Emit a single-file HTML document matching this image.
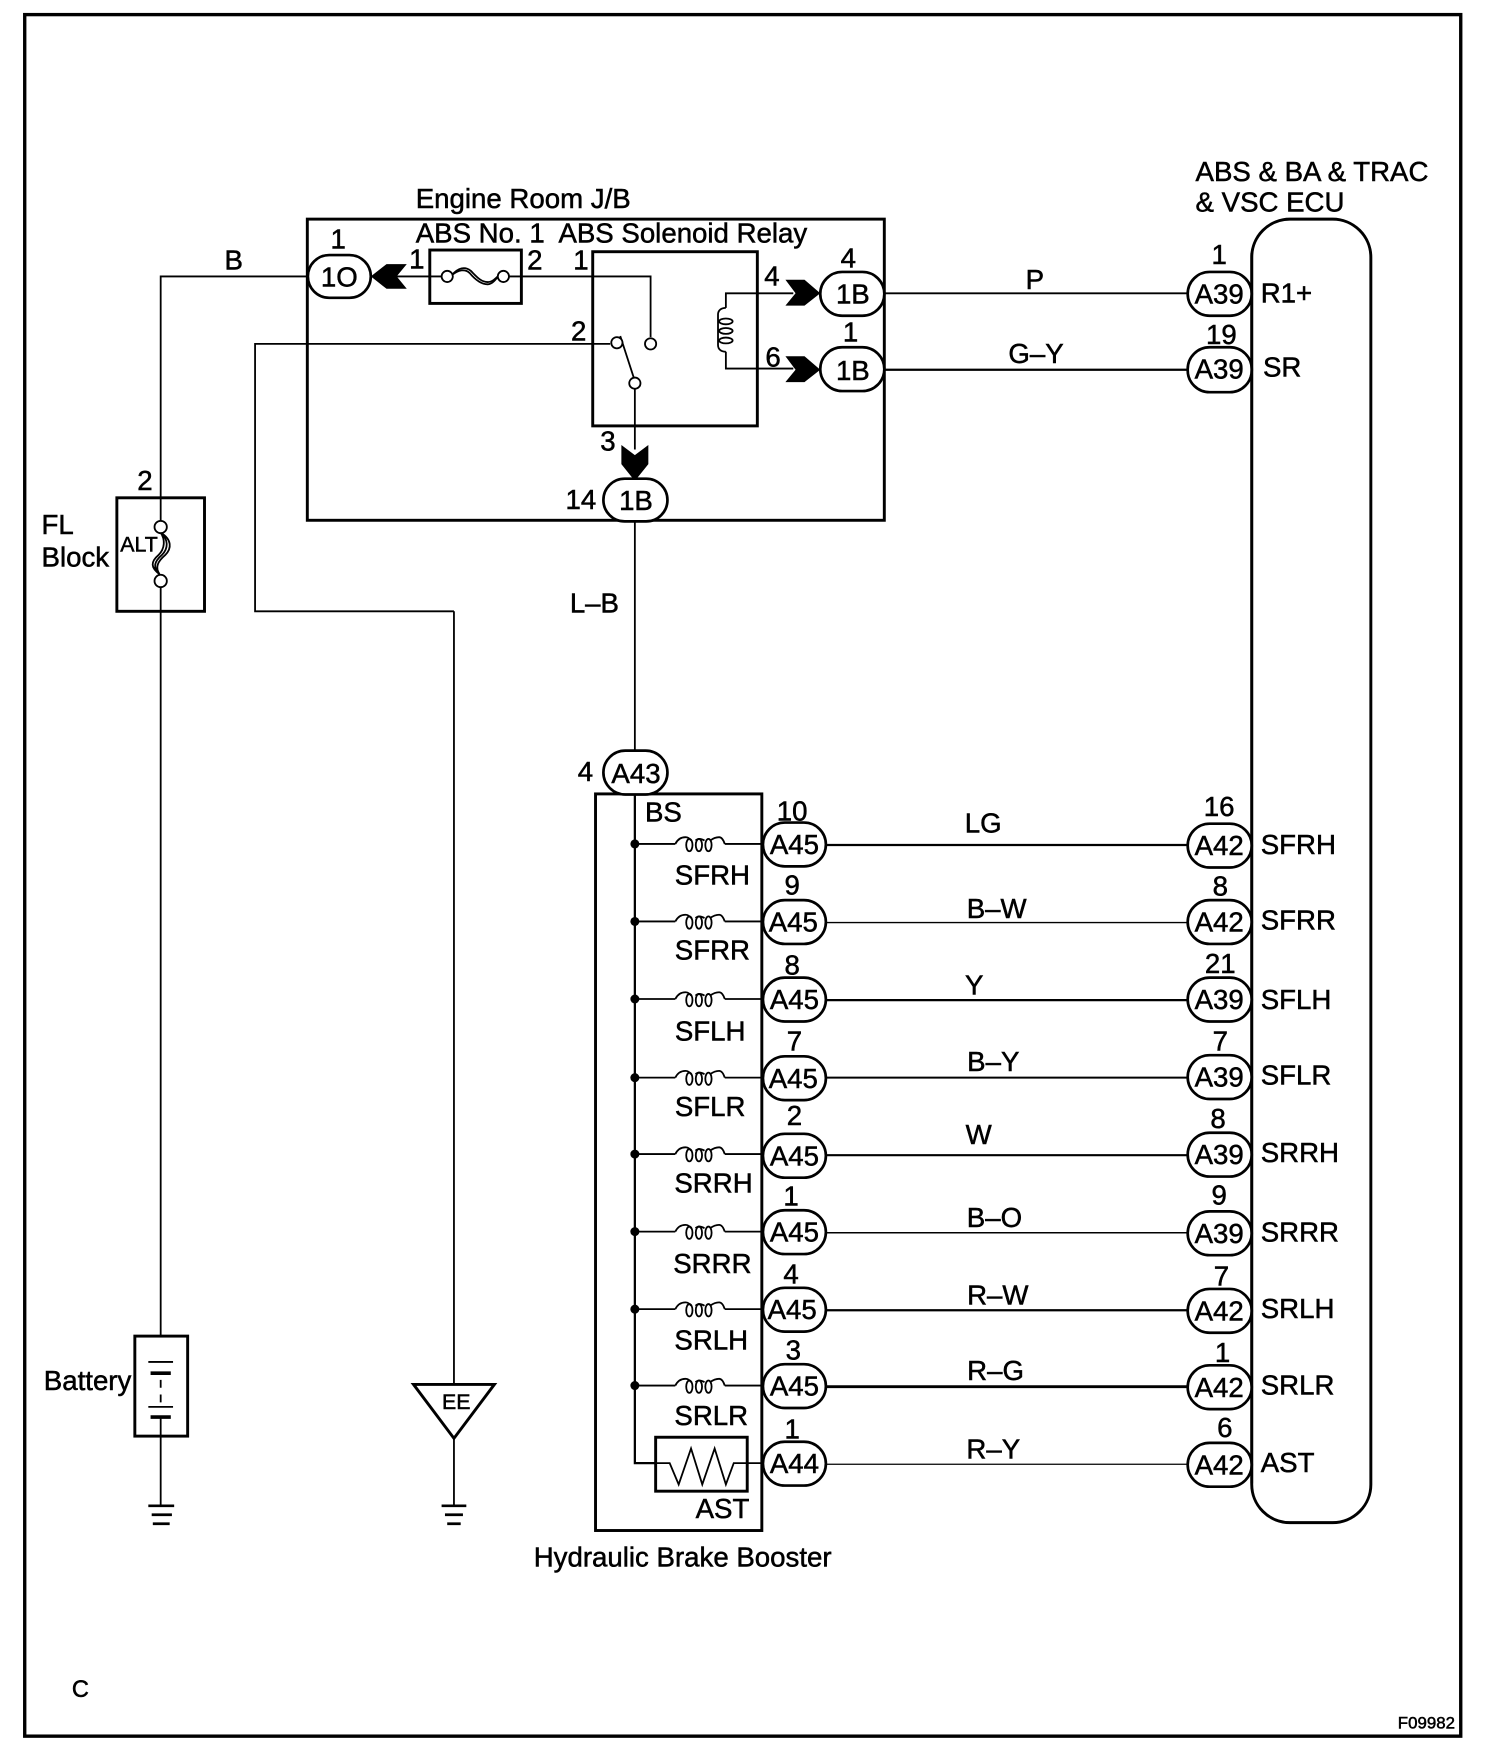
<!DOCTYPE html>
<html><head><meta charset="utf-8"><style>
html,body{margin:0;padding:0;background:#fff}
svg{display:block}
text{font-family:"Liberation Sans",sans-serif;font-size:24.6px;fill:#000;stroke:#000;stroke-width:.45}
.m{text-anchor:middle}
.w{fill:none;stroke:#000;stroke-width:1.6}
.b{fill:none;stroke:#000;stroke-width:2.6}
.p{fill:#fff;stroke:#000;stroke-width:2.4}
.c{fill:#fff;stroke:#000;stroke-width:1.6}
.k{fill:#000;stroke:none}
</style></head><body>
<svg width="1504" height="1762" viewBox="0 0 1338.5 1568" preserveAspectRatio="none" xmlns="http://www.w3.org/2000/svg">
<defs>
<g id="coil"><path class="w" d="M601 0Q604-6 610-6Q613-6 615-3M619-3Q622-6 627-3M632-3Q636-6 640-6Q643-6 645 0"/>
<ellipse class="w" cx="613.5" cy="1" rx="2.8" ry="5.5"/><ellipse class="w" cx="622" cy="1" rx="2.8" ry="5.5"/><ellipse class="w" cx="630.5" cy="1" rx="2.8" ry="5.5"/></g>
</defs>
<rect width="1338.5" height="1568" fill="#fff"/>
<rect class="b" x="22" y="13" width="1278" height="1532" style="stroke-width:3"/>
<!-- wires -->
<path class="w" d="M274 246H143V469M143 517V1189M143 1261V1340"/>
<path class="w" d="M404 544V1232M404 1280V1340M543 306H227V544H404"/>
<path class="w" d="M350 246H393M453 246H579V300"/>
<path class="w" d="M565 346V400M565 464V670"/>
<path class="w" d="M706 261H646V274M646 313V328H706"/>
<path class="w" d="M552 299L564 336"/>
<path class="w" d="M787 261H1057"/>
<path class="w" style="stroke-width:2" d="M787 329H1057"/>
<!-- ECU -->
<rect class="b" x="1114" y="195" width="106" height="1160" rx="34" ry="34"/>
<!-- Engine room box -->
<rect class="b" x="273.500" y="195" width="513.500" height="268"/>
<rect class="b" x="382.500" y="222.500" width="81.500" height="47.500"/>
<rect class="b" x="527.500" y="224" width="146.500" height="155"/>
<!-- fuse ABS No1 -->
<path class="w" d="M402 245C408 238 414 237 419 241C424 246 428 251 434 251C438 251 441 248 444 245"/>
<path class="w" d="M402 245C408 240 414 239 418 243C423 249 428 253 434 253C438 253 441 249 444 245"/>
<circle class="c" cx="398" cy="246" r="5"/><circle class="c" cx="448" cy="246" r="5"/>
<!-- relay contacts -->
<circle class="c" cx="549" cy="305" r="5"/><circle class="c" cx="579" cy="306" r="5"/><circle class="c" cx="565" cy="341" r="5"/>
<!-- relay coil -->
<path class="w" d="M646 274C642 274 639 276 639 280V307C639 311 642 313 646 313"/>
<ellipse class="w" cx="646" cy="286" rx="6" ry="2.6"/><ellipse class="w" cx="646" cy="294.500" rx="6" ry="2.6"/><ellipse class="w" cx="646" cy="303" rx="6" ry="2.6"/>
<!-- chevrons -->
<polygon class="k" points="330,246 344,235 362,235 353,246 362,257 344,257"/>
<polygon class="k" points="730,261 716,249 699,249 708,261 699,272 716,272"/>
<polygon class="k" points="730,329 716,317 699,317 708,329 699,340 716,340"/>
<polygon class="k" points="565,428 553,413 553,396 565,405 577,396 577,413"/>
<!-- pills top -->
<rect class="p" x="274" y="227" width="56" height="38" rx="19"/>
<rect class="p" x="730" y="242" width="57" height="39" rx="19.500"/>
<rect class="p" x="730" y="309" width="57" height="39" rx="19.500"/>
<rect class="p" x="537" y="426" width="57" height="38" rx="19"/>
<rect class="p" x="1057" y="242" width="57" height="39" rx="19.500"/>
<rect class="p" x="1057" y="309" width="57" height="40" rx="19.500"/>
<!-- FL block -->
<rect class="b" x="104" y="443" width="78" height="101"/>
<path class="w" d="M143 474C153 480 153 488 147 494C140 500 138 505 142 511M143 474C150 480 150 488 144 494C137 500 136 505 142 511M143 474C147 480 147 488 141 494C134 500 134 505 142 511"/>
<circle class="c" cx="143" cy="469" r="5.500"/><circle class="c" cx="143" cy="517" r="5.500"/>
<!-- Battery -->
<rect class="b" x="120" y="1189" width="47" height="89"/>
<path class="w" d="M132 1212H154"/><path class="w" style="stroke-width:3.200" d="M134 1222H152"/>
<path class="w" style="stroke-dasharray:7 6" d="M143 1228V1250"/>
<path class="w" d="M132 1252H154"/><path class="w" style="stroke-width:3.200" d="M134 1261H152"/>
<!-- grounds -->
<path class="w" style="stroke-width:2.400" d="M132 1340H155M135 1348H153M136 1356H151"/>
<path class="w" style="stroke-width:2.400" d="M393 1340H415M396 1348H412M398 1356H410"/>
<!-- EE -->
<polygon class="b" fill="#fff" points="368,1232 440,1232 404,1280"/>
<!-- Booster -->
<path class="w" style="stroke-width:2" d="M565 707V1302H583"/>
<rect class="b" x="530" y="706.500" width="148" height="655.500"/>
<rect class="b" x="583.500" y="1279" width="81.500" height="48"/>
<path class="w" d="M583 1302H596L604 1321L615 1289L625 1321L636 1289L646 1321L653 1302H679"/>
<rect class="p" x="537" y="668" width="57" height="39" rx="19.500"/>
<!-- rows -->
<g class="w"><path d="M565 751H601M645 751H679"/><path d="M565 820H601M645 820H679"/><path d="M565 889H601M645 889H679"/><path d="M565 959H601M645 959H679"/><path d="M565 1027H601M645 1027H679"/><path d="M565 1096H601M645 1096H679"/><path d="M565 1165H601M645 1165H679"/><path d="M565 1233H601M645 1233H679"/></g>
<use href="#coil" y="751"/><use href="#coil" y="820"/><use href="#coil" y="889"/><use href="#coil" y="959"/><use href="#coil" y="1027"/><use href="#coil" y="1096"/><use href="#coil" y="1165"/><use href="#coil" y="1233"/>
<g class="k"><circle cx="565" cy="751" r="4"/><circle cx="565" cy="820" r="4"/><circle cx="565" cy="889" r="4"/><circle cx="565" cy="959" r="4"/><circle cx="565" cy="1027" r="4"/><circle cx="565" cy="1096" r="4"/><circle cx="565" cy="1165" r="4"/><circle cx="565" cy="1233" r="4"/></g>
<path class="w" style="stroke-width:2" d="M735 752H1057"/>
<path class="w" style="stroke-width:1.300" d="M735 821H1057"/>
<path class="w" style="stroke-width:2" d="M735 890H1057"/>
<path class="w" style="stroke-width:1.800" d="M735 959H1057"/>
<path class="w" style="stroke-width:1.800" d="M735 1028H1057"/>
<path class="w" style="stroke-width:1.300" d="M735 1097H1057"/>
<path class="w" style="stroke-width:2" d="M735 1166H1057"/>
<path class="w" style="stroke-width:2.500" d="M735 1234H1057"/>
<path class="w" style="stroke-width:1.100" d="M735 1303H1057"/>
<g class="p">
<rect x="679" y="732" width="56" height="39" rx="19.500"/><rect x="679" y="801" width="56" height="39" rx="19.500"/><rect x="679" y="870" width="56" height="39" rx="19.500"/><rect x="679" y="940" width="56" height="39" rx="19.500"/><rect x="679" y="1009" width="56" height="39" rx="19.500"/><rect x="679" y="1077" width="56" height="39" rx="19.500"/><rect x="679" y="1146" width="56" height="39" rx="19.500"/><rect x="679" y="1214" width="56" height="39" rx="19.500"/><rect x="679" y="1283" width="56" height="39" rx="19.500"/>
<rect x="1057" y="733" width="57" height="39" rx="19.500"/><rect x="1057" y="801" width="57" height="39" rx="19.500"/><rect x="1057" y="870" width="57" height="39" rx="19.500"/><rect x="1057" y="939" width="57" height="39" rx="19.500"/><rect x="1057" y="1008" width="57" height="39" rx="19.500"/><rect x="1057" y="1078" width="57" height="39" rx="19.500"/><rect x="1057" y="1147" width="57" height="39" rx="19.500"/><rect x="1057" y="1215" width="57" height="39" rx="19.500"/><rect x="1057" y="1284" width="57" height="39" rx="19.500"/>
</g>
<path class="w" style="stroke-width:2.400" d="M1114 225V1320"/>
<!-- text -->
<text x="370" y="185">Engine Room J/B</text>
<text x="370" y="216">ABS No. 1</text>
<text x="497" y="216">ABS Solenoid Relay</text>
<text x="1064" y="161">ABS &amp; BA &amp; TRAC</text>
<text x="1064" y="188">&amp; VSC ECU</text>
<text x="37" y="475">FL</text><text x="37" y="504">Block</text>
<text x="107" y="491" style="font-size:19px">ALT</text>
<text x="39" y="1237">Battery</text>
<text class="m" x="406" y="1254" style="font-size:19px">EE</text>
<text x="64" y="1510" style="font-size:21px">C</text>
<text x="1244" y="1538" style="font-size:15px">F09982</text>
<text x="475" y="1394">Hydraulic Brake Booster</text>
<text class="m" x="302" y="255">1O</text>
<text class="m" x="759" y="270">1B</text><text class="m" x="759" y="338">1B</text><text class="m" x="566" y="454">1B</text>
<text class="m" x="566" y="697">A43</text>
<text class="m" x="301" y="221">1</text><text class="m" x="371" y="239">1</text><text class="m" x="476" y="240">2</text><text class="m" x="517" y="240">1</text><text class="m" x="687" y="254">4</text><text class="m" x="755" y="238">4</text><text class="m" x="757" y="304">1</text><text class="m" x="688" y="326">6</text><text class="m" x="515" y="303">2</text><text class="m" x="541" y="401">3</text><text class="m" x="517" y="453">14</text><text class="m" x="129" y="436">2</text><text class="m" x="521" y="695">4</text>
<text class="m" x="208" y="240">B</text><text class="m" x="921" y="257">P</text><text class="m" x="922" y="323">G–Y</text><text class="m" x="529" y="545">L–B</text>
<text class="m" x="1085" y="235">1</text><text class="m" x="1087" y="306">19</text>
<text class="m" x="1085" y="270">A39</text><text class="m" x="1085" y="337">A39</text>
<text x="1122" y="269">R1+</text><text x="1124" y="335">SR</text>
<text x="574" y="731">BS</text>
<g>
<text class="m" x="634" y="787">SFRH</text><text class="m" x="634" y="854">SFRR</text><text class="m" x="632" y="926">SFLH</text><text class="m" x="632" y="993">SFLR</text><text class="m" x="635" y="1061">SRRH</text><text class="m" x="634" y="1133">SRRR</text><text class="m" x="633" y="1201">SRLH</text><text class="m" x="633" y="1268">SRLR</text><text class="m" x="643" y="1351">AST</text>
<text class="m" x="707" y="760">A45</text><text class="m" x="706" y="829">A45</text><text class="m" x="707" y="898">A45</text><text class="m" x="706" y="968">A45</text><text class="m" x="707" y="1037">A45</text><text class="m" x="707" y="1105">A45</text><text class="m" x="705" y="1174">A45</text><text class="m" x="707" y="1242">A45</text><text class="m" x="707" y="1311">A44</text>
<text class="m" x="705" y="730">10</text><text class="m" x="705" y="796">9</text><text class="m" x="705" y="867">8</text><text class="m" x="707" y="935">7</text><text class="m" x="707" y="1001">2</text><text class="m" x="704" y="1073">1</text><text class="m" x="704" y="1142">4</text><text class="m" x="706" y="1210">3</text><text class="m" x="705" y="1280">1</text>
<text class="m" x="1085" y="726">16</text><text class="m" x="1086" y="797">8</text><text class="m" x="1086" y="866">21</text><text class="m" x="1086" y="935">7</text><text class="m" x="1084" y="1004">8</text><text class="m" x="1085" y="1072">9</text><text class="m" x="1087" y="1144">7</text><text class="m" x="1088" y="1212">1</text><text class="m" x="1090" y="1279">6</text>
<text class="m" x="1085" y="761">A42</text><text class="m" x="1085" y="829">A42</text><text class="m" x="1085" y="898">A39</text><text class="m" x="1085" y="967">A39</text><text class="m" x="1085" y="1036">A39</text><text class="m" x="1085" y="1106">A39</text><text class="m" x="1085" y="1175">A42</text><text class="m" x="1085" y="1243">A42</text><text class="m" x="1085" y="1312">A42</text>
<text class="m" x="875" y="741">LG</text><text class="m" x="887" y="817">B–W</text><text class="m" x="867" y="885">Y</text><text class="m" x="884" y="953">B–Y</text><text class="m" x="871" y="1018">W</text><text class="m" x="885" y="1092">B–O</text><text class="m" x="888" y="1161">R–W</text><text class="m" x="886" y="1228">R–G</text><text class="m" x="884" y="1298">R–Y</text>
<text x="1122" y="760">SFRH</text><text x="1122" y="827">SFRR</text><text x="1122" y="898">SFLH</text><text x="1122" y="965">SFLR</text><text x="1122" y="1034">SRRH</text><text x="1122" y="1105">SRRR</text><text x="1122" y="1173">SRLH</text><text x="1122" y="1241">SRLR</text><text x="1122" y="1310">AST</text>
</g>
</svg>
</body></html>
